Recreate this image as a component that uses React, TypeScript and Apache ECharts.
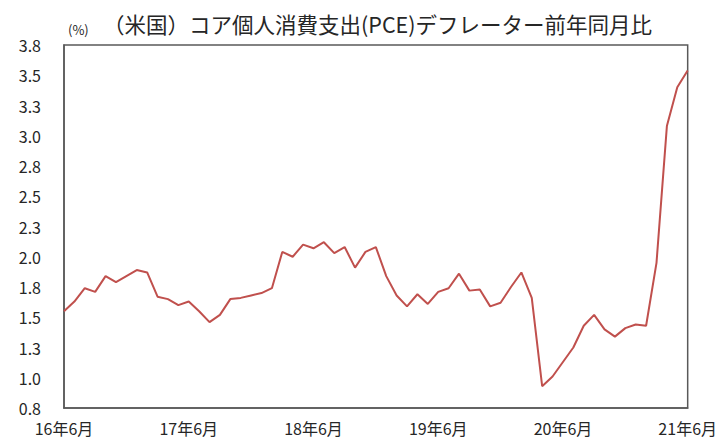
import React, { useEffect, useRef } from "react";
import * as echarts from "echarts";

const months: string[] = [];
for (let y = 16; y <= 21; y++) {
  const start = y === 16 ? 6 : 1;
  const end = y === 21 ? 6 : 12;
  for (let m = start; m <= end; m++) months.push(`${y}年${m}月`);
}

const pceCore: number[] = [
  1.55, 1.63, 1.74, 1.71, 1.84, 1.79, 1.84, 1.89, 1.87, 1.67, 1.65, 1.6,
  1.63, 1.55, 1.46, 1.52, 1.65, 1.66, 1.68, 1.7, 1.74, 2.04, 2.0, 2.1,
  2.07, 2.12, 2.03, 2.08, 1.91, 2.04, 2.08, 1.84, 1.68, 1.59, 1.69, 1.61,
  1.71, 1.74, 1.86, 1.72, 1.73, 1.59, 1.62, 1.75, 1.87, 1.66, 0.93, 1.01,
  1.13, 1.25, 1.43, 1.52, 1.4, 1.34, 1.41, 1.44, 1.43, 1.95, 3.08, 3.4,
  3.54,
];

const titleText = "（米国）コア個人消費支出(PCE)デフレーター前年同月比";
const unitText = "(%)";
const font = "'Noto Sans CJK JP', 'Noto Sans', sans-serif";

export default function App() {
  const ref = useRef<HTMLDivElement>(null);
  useEffect(() => {
    if (!ref.current) return;
    const chart = echarts.init(ref.current, undefined, { renderer: "svg" });
    chart.setOption({
      animation: false,
      backgroundColor: "#ffffff",
      title: {
        text: titleText,
        left: 95,
        top: 5,
        padding: 0,
        textStyle: { fontFamily: font, fontSize: 21.5, fontWeight: "normal", color: "#262626" },
      },
      graphic: [
        {
          type: "text",
          left: 60,
          top: 15,
          style: { text: unitText, fontFamily: font, fontSize: 13, fill: "#262626" },
        },
      ],
      grid: { left: 56, right: 29, top: 37, bottom: 35, show: true, borderColor: "#595959", borderWidth: 1.5 },
      xAxis: {
        type: "category",
        data: months,
        boundaryGap: false,
        axisLine: { show: true, lineStyle: { color: "#595959", width: 1.5 } },
        axisTick: { show: false },
        axisLabel: {
          interval: 11,
          showMaxLabel: true,
          margin: 12,
          fontFamily: font,
          fontSize: 16,
          color: "#262626",
        },
        splitLine: { show: false },
      },
      yAxis: {
        type: "value",
        min: 0.75,
        max: 3.75,
        interval: 0.25,
        axisLine: { show: true, lineStyle: { color: "#595959", width: 1.5 } },
        axisTick: { show: false },
        splitLine: { show: false },
        axisLabel: {
          margin: 23,
          fontFamily: font,
          fontSize: 16,
          color: "#262626",
          formatter: (v: number) => (Math.round(v * 10 + 1e-9) / 10).toFixed(1),
        },
      },
      series: [
        {
          type: "line",
          data: pceCore,
          symbol: "none",
          lineStyle: { color: "#C0504D", width: 2 },
        },
      ],
    });
    return () => chart.dispose();
  }, []);
  return <div ref={ref} style={{ width: 712, height: 435 }} />;
}
